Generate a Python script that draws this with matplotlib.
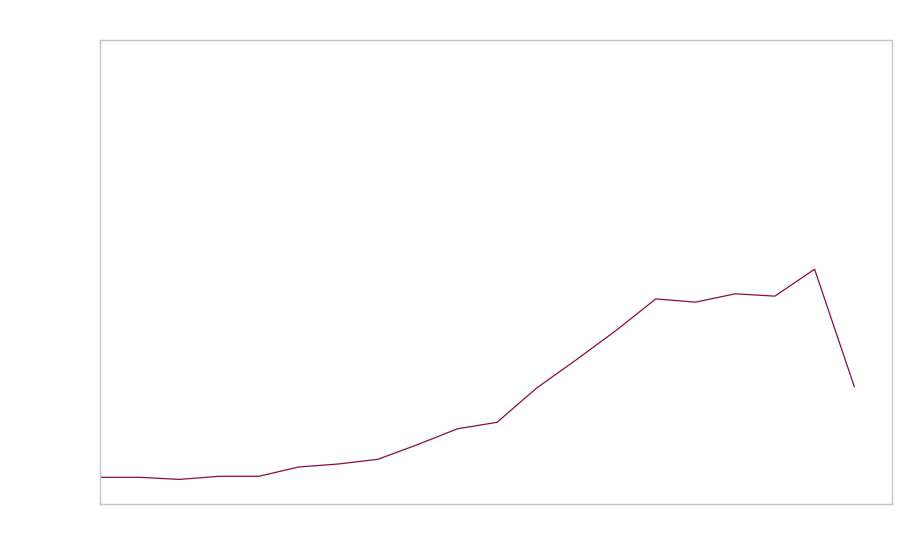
import matplotlib
matplotlib.use('Agg')
import matplotlib.pyplot as plt

# Series values (no labels shown in the chart; read as % of axis height)
x_index = list(range(20))
values = [5.75, 5.75, 5.3, 5.97, 5.97, 7.97, 8.62, 9.63, 12.8, 16.2,
          17.6, 25.0, 31.1, 37.4, 44.2, 43.5, 45.3, 44.8, 50.6, 25.3]

fig = plt.figure(figsize=(9, 5.6), dpi=100)
ax = fig.add_axes([100 / 900, 56 / 560, 792 / 900, 464 / 560])

ax.plot(x_index, values, color='#8c0a48', linewidth=0.9)

ax.set_xlim(0, 19.95)
ax.set_ylim(0, 100)
ax.set_xticks([])
ax.set_yticks([])
for spine in ax.spines.values():
    spine.set_color('#c4c4c4')
    spine.set_linewidth(1.0)

fig.savefig('out.png', dpi=100)
plt.close()
